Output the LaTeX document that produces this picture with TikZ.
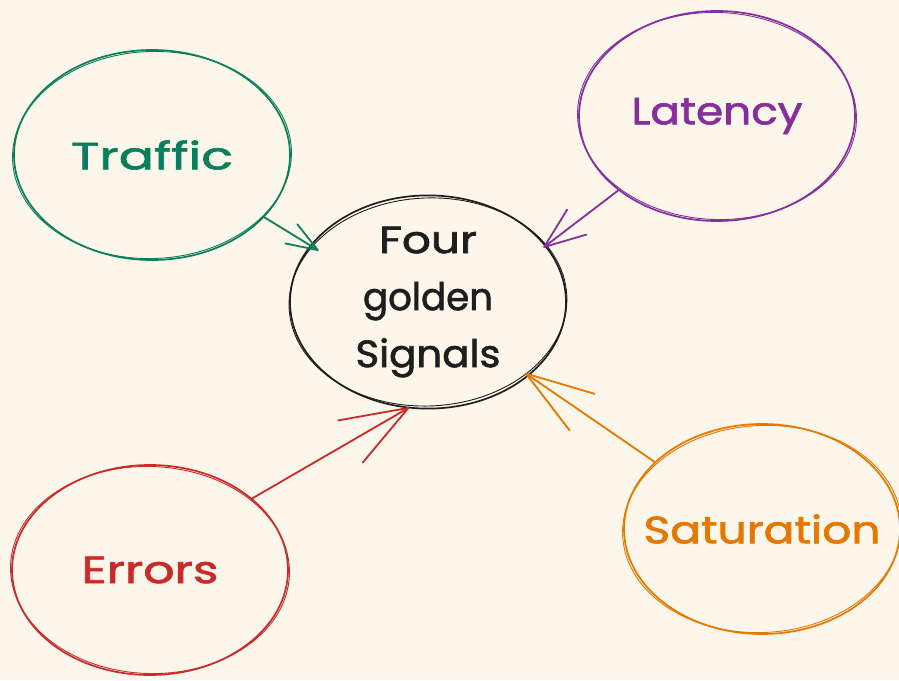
\documentclass[tikz,border=0pt]{standalone}
\usepackage{fontspec}
\usepackage{graphicx}
\setmainfont{Poppins}
\newfontfamily\handfont[FakeBold=1.6]{Poppins}
\usetikzlibrary{shapes.geometric,arrows.meta}
\definecolor{bgc}{HTML}{FDF6EA}
\definecolor{tgreen}{HTML}{0B7F5B}
\definecolor{tpurple}{HTML}{862E9C}
\definecolor{torange}{HTML}{E67700}
\definecolor{tred}{HTML}{C92A2A}
\definecolor{tblack}{HTML}{1E1E1E}
\newcommand{\fitw}[2]{\makebox[0pt]{\resizebox{#1}{\height}{#2}}}
\newcommand{\sketchring}[4]{% node, color, rotation, extra radius
  \draw[#2, line width=0.9pt, rotate around={#3:(#1.center)}]
    (#1.center) ellipse[x radius=138+#4, y radius=105-#4];}
\begin{document}
\begin{tikzpicture}[x=1pt,y=-1pt,
  bubble/.style={ellipse, draw=#1, text=#1, line width=1.7pt, inner sep=0pt,
    minimum width=276pt, minimum height=210pt,
    font=\handfont\fontsize{38}{57}\selectfont, align=center},
  conn/.style={draw=#1, line width=1.8pt, line cap=round},
]
\fill[bgc] (0,0) rectangle (899,680);
\useasboundingbox (0,0) rectangle (899,680);

\node[bubble=tgreen] (traffic) at (152,155) {\fitw{162pt}{Traffic}};
\node[bubble=tpurple] (latency) at (717,116) {\fitw{171pt}{Latency}};
\node[bubble=tblack] (golden) at (428,302)
  {\fitw{98pt}{Four}\\\fitw{130pt}{golden}\\\fitw{145pt}{Signals}};
\node[bubble=tred] (errors) at (150,570) {\fitw{137pt}{Errors}};
\node[bubble=torange] (saturation) at (762,529) {\fitw{237pt}{Saturation}};

\sketchring{traffic}{tgreen}{2}{1.5}
\sketchring{latency}{tpurple}{-2}{1.5}
\sketchring{golden}{tblack}{2.5}{1}
\sketchring{errors}{tred}{-2}{1.5}
\sketchring{saturation}{torange}{3}{1.5}

\draw[conn=tgreen, -{Straight Barb[length=31pt, angle'=40, round]}]
  (traffic.-29) -- ([shift={(9.5,4)}]golden.155);
\draw[conn=tpurple, -{Straight Barb[length=41pt, angle'=42, round]}]
  (latency.217) -- ([shift={(-3.5,1)}]golden.25);
\draw[conn=torange, -{Straight Barb[length=68pt, angle'=36, round]}]
  (saturation.148) -- ([shift={(-4,-2.5)}]golden.-36);
\draw[conn=tred, -{Straight Barb[length=67pt, angle'=40, round]}]
  (errors.35) -- ([shift={(0,-1)}]golden.260);
\end{tikzpicture}
\end{document}
